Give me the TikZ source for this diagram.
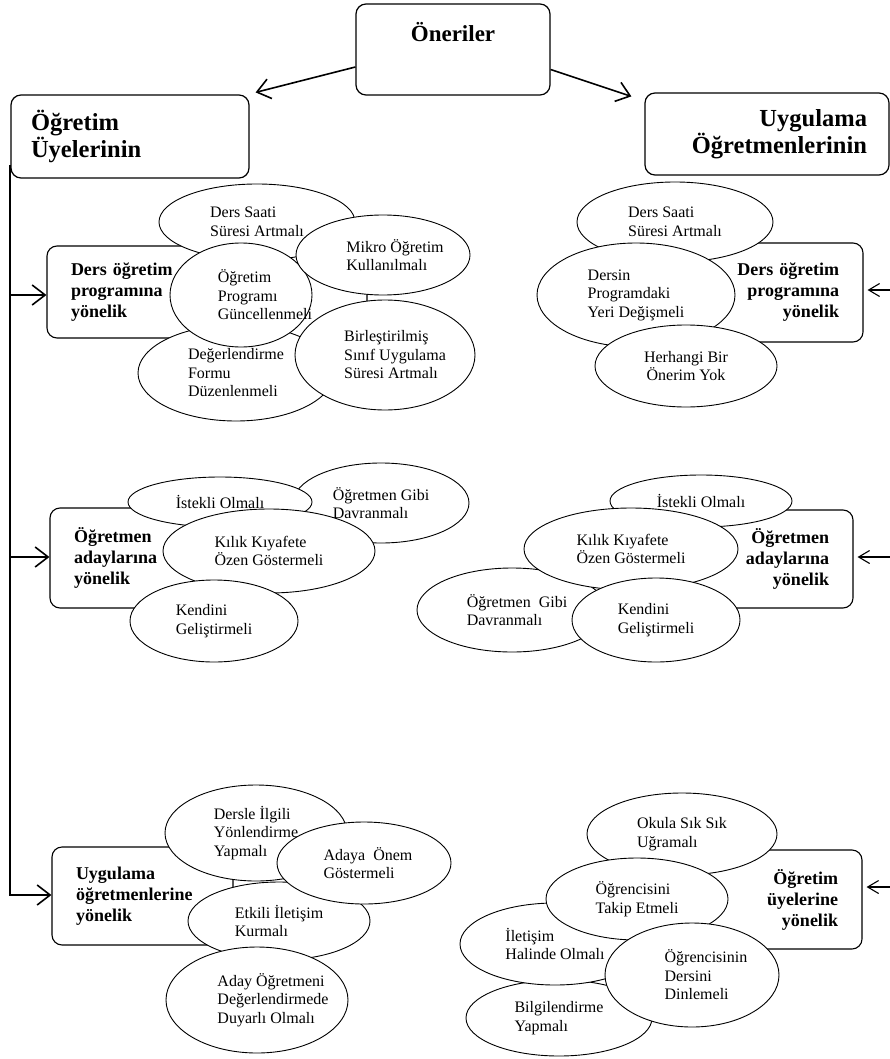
\documentclass[tikz,border=0pt]{standalone}
\usepackage{fontspec}
\setmainfont{Liberation Serif}
\usetikzlibrary{shapes.geometric,arrows.meta}
\newcommand\ellf{\fontsize{16}{18.5}\selectfont}
\newcommand\grpf{\bfseries\fontsize{18}{21}\selectfont}
\newcommand\mainf{\bfseries\fontsize{24.5}{27}\selectfont}
\newcommand\topf{\bfseries\fontsize{23}{27}\selectfont}
\begin{document}
\begin{tikzpicture}[x=1pt,y=-1pt,
  mainbox/.style={draw, rounded corners=10pt, line width=1.2pt, fill=white, inner ysep=0pt, font=\mainf},
  grpbox/.style={draw, rounded corners=10pt, line width=1.1pt, fill=white, inner xsep=24pt, inner ysep=0pt, font=\grpf},
  ell/.style={ellipse, draw, line width=0.9pt, fill=white, inner sep=0pt, align=left, font=\ellf},
  lab/.style={font=\ellf, align=left, inner sep=0pt},
  arrL/.style={line width=1.6pt, -{Straight Barb[length=13pt,width=20pt]}},
  arrR/.style={line width=1.1pt, -{Straight Barb[length=11pt,width=13pt]}},
]
\useasboundingbox (0,0) rectangle (890,1059);

% main boxes
\node[mainbox, font=\topf, minimum width=194pt, text height=38pt, text depth=53pt] (on) at (453,49.5) {Öneriler};
\node[mainbox, text width=198pt, inner xsep=20pt, minimum height=83pt, align=left] (ouy) at (130,136.5) {Öğretim\\Üyelerinin};
\node[mainbox, text width=200pt, inner xsep=22pt, minimum height=82pt, align=right] (uog) at (767,134) {Uygulama\\Öğretmenlerinin};

% group boxes
\node[grpbox, text width=272pt, minimum height=92pt, align=left] (dopl) at (207,292) {Ders öğretim\\programına\\yönelik};
\node[grpbox, text width=177pt, minimum height=100pt, align=left] (oal) at (162.5,558) {Öğretmen\\adaylarına\\yönelik};
\node[grpbox, text width=133pt, minimum height=98pt, align=left] (uol) at (142.5,896) {Uygulama\\öğretmenlerine\\yönelik};
\node[grpbox, text width=115pt, minimum height=99pt, align=right] (dopr) at (781.5,292.5) {Ders öğretim\\programına\\yönelik};
\node[grpbox, text width=115pt, minimum height=98pt, align=right] (oar) at (771.5,559) {Öğretmen\\adaylarına\\yönelik};
\node[grpbox, text width=114pt, minimum height=99pt, align=right] (ouyr) at (781,899.5) {Öğretim\\üyelerine\\yönelik};

% top-left cluster
\node[ell, minimum width=196pt, minimum height=76pt] (e1) at (257,222) {Ders Saati\\Süresi Artmalı};
\node[ell, minimum width=196pt, minimum height=96pt] (e2) at (236,373) {Değerlendirme\\Formu\\Düzenlenmeli};
\node[ell, minimum width=142pt, minimum height=104pt, label={[lab,xshift=24pt]center:{Öğretim\\Programı\\Güncellenmeli}}] (e3) at (241,295) {};
\node[ell, minimum width=174pt, minimum height=80pt, label={[lab,xshift=12pt]center:{Mikro Öğretim\\Kullanılmalı}}] (e4) at (383,255) {};
\node[ell, minimum width=180pt, minimum height=110pt, label={[lab,xshift=10pt]center:{Birleştirilmiş\\Sınıf Uygulama\\Süresi Artmalı}}] (e5) at (385,355) {};

% top-right cluster
\node[ell, minimum width=196pt, minimum height=80pt] (f1) at (675,222) {Ders Saati\\Süresi Artmalı};
\node[ell, minimum width=198pt, minimum height=104pt] (f2) at (636,295) {Dersin\\Programdaki\\Yeri Değişmeli};
\node[ell, minimum width=182pt, minimum height=82pt, align=center] (f3) at (686,366) {Herhangi Bir\\Önerim Yok};

% middle-left cluster
\node[ell, minimum width=176pt, minimum height=80pt] (g1) at (381,503) {Öğretmen Gibi\\Davranmalı};
\node[ell, minimum width=184pt, minimum height=50pt] (g2) at (220,502) {İstekli Olmalı};
\node[ell, minimum width=212pt, minimum height=84pt] (g3) at (269,551) {Kılık Kıyafete\\Özen Göstermeli};
\node[ell, minimum width=168pt, minimum height=82pt] (g4) at (214,621) {Kendini\\Geliştirmeli};

% middle-right cluster
\node[ell, minimum width=182pt, minimum height=52pt] (h1) at (701,501) {İstekli Olmalı};
\node[ell, minimum width=190pt, minimum height=84pt, label={[lab,xshift=5pt]center:{Öğretmen~ Gibi\\Davranmalı}}] (h2) at (512,610) {};
\node[ell, minimum width=214pt, minimum height=82pt] (h3) at (631,549) {Kılık Kıyafete\\Özen Göstermeli};
\node[ell, minimum width=168pt, minimum height=84pt] (h4) at (656,620) {Kendini\\Geliştirmeli};

% bottom-left cluster
\node[ell, minimum width=182pt, minimum height=96pt] (k1) at (256,833) {Dersle İlgili\\Yönlendirme\\Yapmalı};
\node[ell, minimum width=182pt, minimum height=78pt] (k2) at (279,921) {Etkili İletişim\\Kurmalı};
\node[ell, minimum width=174pt, minimum height=82pt, label={[lab,xshift=4pt]center:{Adaya~ Önem\\Göstermeli}}] (k3) at (364,863) {};
\node[ell, minimum width=182pt, minimum height=106pt, label={[lab,xshift=16pt]center:{Aday Öğretmeni\\Değerlendirmede\\Duyarlı Olmalı}}] (k4) at (257,1000) {};

% bottom-right cluster
\node[ell, minimum width=190pt, minimum height=82pt] (m1) at (682,834) {Okula Sık Sık\\Uğramalı};
\node[ell, minimum width=186pt, minimum height=76pt] (m2) at (559,1018) {Bilgilendirme\\Yapmalı};
\node[ell, minimum width=190pt, minimum height=82pt] (m3) at (555,944) {İletişim\\Halinde Olmalı};
\node[ell, minimum width=182pt, minimum height=82pt] (m4) at (637,899) {Öğrencisini\\Takip Etmeli};
\node[ell, minimum width=174pt, minimum height=104pt, label={[lab,xshift=14pt]center:{Öğrencisinin\\Dersini\\Dinlemeli}}] (m5) at (692,975) {};

% connectors
\coordinate (t0) at (10,165);
\coordinate (t1) at (10,295);
\coordinate (t2) at (10,557);
\coordinate (t3) at (10,895);
\draw[arrL] (t0) -- (t3) -- (t3 -| uol.west);
\draw[arrL] (t1) -- (t1 -| dopl.west);
\draw[arrL] (t2) -- (t2 -| oal.west);

\coordinate (s1) at (891,290);
\coordinate (s2) at (891,557);
\coordinate (s3) at (891,887);
\draw[arrR, shorten >=4pt] (s1) -- (s1 -| dopr.east);
\draw[arrR, shorten >=4pt] (s2) -- (s2 -| oar.east);
\draw[arrR, shorten >=4pt] (s3) -- (s3 -| ouyr.east);

\draw[arrL] ([yshift=-17.5pt]on.west) -- ([xshift=6pt,yshift=2pt]ouy.north east);
\draw[arrL] ([yshift=-20pt]on.east) -- ([xshift=-13pt,yshift=-4pt]uog.north west);
\end{tikzpicture}
\end{document}
